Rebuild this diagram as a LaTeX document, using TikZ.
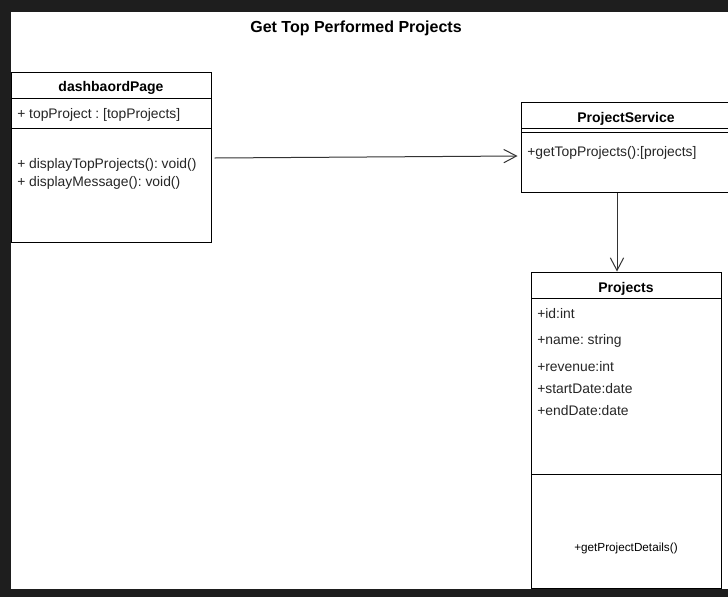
\documentclass[tikz,border=0pt]{standalone}
\usepackage{fontspec}
\setmainfont{Liberation Sans}
\frenchspacing
\usetikzlibrary{arrows.meta,calc}
\definecolor{darkbg}{HTML}{1E1E1E}
\tikzset{
  umlbox/.style={draw=black, line width=0.75pt, fill=white, inner sep=0pt},
  ttl/.style={font=\fontsize{10.5}{12}\selectfont\bfseries, inner sep=0pt},
  txt/.style={font=\fontsize{10.4}{12}\selectfont, inner sep=0pt, anchor=west, text=black!85},
  sep/.style={line width=0.75pt, draw=black},
  conn/.style={line width=0.75pt, draw=black!80, -{Straight Barb[length=9.5pt,width=10pt,line width=0.75pt]}}
}
\begin{document}
\begin{tikzpicture}[x=0.75pt,y=-0.75pt]
\useasboundingbox (0,0) rectangle (728,597);
\fill[darkbg] (0,0) rectangle (728,597);
\fill[white] (11,12) rectangle (728,589);
\begin{scope}
\clip (11,12) rectangle (728,589);
\node[font=\fontsize{12}{14}\selectfont\bfseries, inner sep=0pt] (title) at (356,28) {Get Top Performed Projects};

% dashboard page
\node[umlbox, minimum width=150pt, minimum height=127.5pt] (dash) at (111,157) {};
\draw[sep] (11,98) -- (211,98);
\draw[sep] (11,128) -- (211,128);
\node[ttl] (dasht) at (111,87.5) {dashbaordPage};
\node[txt] (dasha) at (17,114.5) {+ topProject : [topProjects]};
\node[txt] (dashm1) at (17,164.5) {+ displayTopProjects(): void()};
\node[txt] (dashm2) at (17,182.5) {+ displayMessage(): void()};

% project service
\node[umlbox, minimum width=157.5pt, minimum height=67.5pt] (ps) at (626,147) {};
\draw[sep] (521,128) -- (731,128);
\draw[sep] (521,132) -- (731,132);
\node[ttl] (pst) at (626,118.5) {ProjectService};
\node[txt] (psm) at (527,152.5) {+getTopProjects():[projects]};

% projects
\node[umlbox, minimum width=142.5pt, minimum height=237pt] (proj) at (626,430) {};
\draw[sep] (531,298) -- (721,298);
\draw[sep] (531,474) -- (721,474);
\node[ttl] (projt) at (626,288.5) {Projects};
\node[txt] (pa1) at (537,313.5) {+id:int};
\node[txt] (pa2) at (537,340.5) {+name: string};
\node[txt] (pa3) at (537,366.5) {+revenue:int};
\node[txt] (pa4) at (537,388.5) {+startDate:date};
\node[txt] (pa5) at (537,410.5) {+endDate:date};
\node[font=\fontsize{8.8}{10}\selectfont, inner sep=0pt] (pm) at (626,548) {+getProjectDetails()};

% connectors
\draw[conn] ($(dash.east)+(3,1)$) -- ($(ps.west)+(-3,9)$);
\draw[conn] ($(ps.south)+(-9,0)$) -- ($(proj.north)+(-9,0)$);
\end{scope}
\end{tikzpicture}
\end{document}
